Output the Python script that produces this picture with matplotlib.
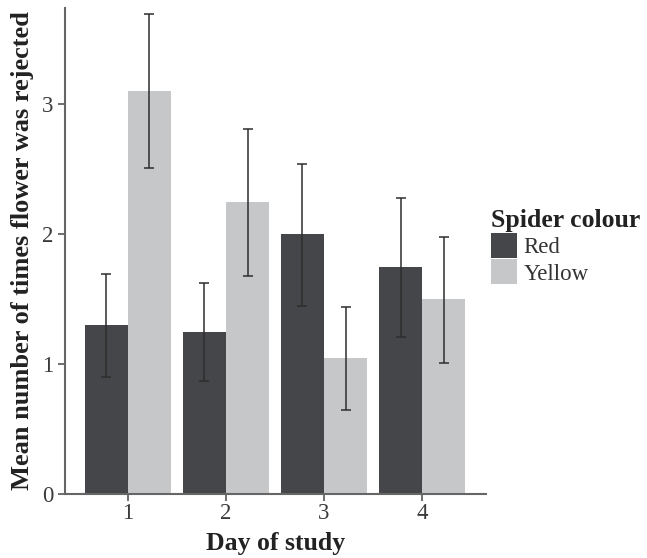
import numpy as np
import matplotlib
matplotlib.use("Agg")
import matplotlib.pyplot as plt

# data
days = [1, 2, 3, 4]
series = ["Red", "Yellow"]
red_mean = [1.30, 1.25, 2.00, 1.75]
red_lo = [0.90, 0.87, 1.45, 1.21]
red_hi = [1.69, 1.62, 2.54, 2.28]
yellow_mean = [3.10, 2.25, 1.05, 1.50]
yellow_lo = [2.51, 1.68, 0.65, 1.01]
yellow_hi = [3.69, 2.81, 1.44, 1.98]

colours = {"Red": "#454649", "Yellow": "#c6c7c9"}

plt.rcParams["font.family"] = ["Liberation Serif", "DejaVu Serif"]

fig = plt.figure(figsize=(6.47, 5.58), dpi=100)
ax = fig.add_axes([0.1005, 0.1147, 0.6505, 0.871])

x = np.array(days, dtype=float)
w = 0.44
for i, (name, mean, lo, hi) in enumerate([
        ("Red", red_mean, red_lo, red_hi),
        ("Yellow", yellow_mean, yellow_lo, yellow_hi)]):
    pos = x + (i - 0.5) * w
    mean = np.array(mean)
    err = np.vstack([mean - np.array(lo), np.array(hi) - mean])
    ax.bar(pos, mean, width=w, color=colours[name], label=name, zorder=2)
    ax.errorbar(pos, mean, yerr=err, fmt="none", ecolor="#2e2e2e",
                elinewidth=1.1, capsize=3.8, capthick=1.1, zorder=3)

ax.set_xlim(0.36, 4.65)
ax.set_ylim(0, 3.74)
ax.set_xticks(days)
ax.set_yticks([0, 1, 2, 3])
ax.tick_params(axis="both", labelsize=16.5, colors="#555555", labelcolor="#3a3a3a",
               length=5, width=1.2)
ax.tick_params(axis="x", pad=1.5)

for s in ["top", "right"]:
    ax.spines[s].set_visible(False)
for s in ["left", "bottom"]:
    ax.spines[s].set_color("#666666")
    ax.spines[s].set_linewidth(1.5)

ax.set_xlabel("Day of study", fontsize=18.5, fontweight="bold", color="#222222", labelpad=6)
ax.set_ylabel("Mean number of times flower was rejected", fontsize=19,
              fontweight="bold", color="#222222", labelpad=6)

leg = fig.legend(loc="upper left", bbox_to_anchor=(0.744, 0.642), frameon=False,
                 title="Spider colour", fontsize=16.5, handlelength=1.15,
                 handleheight=1.3, labelspacing=0.05, handletextpad=0.3,
                 alignment="left", borderaxespad=0)
leg.get_title().set_fontweight("bold")
leg.get_title().set_fontsize(18.5)
leg.get_title().set_color("#222222")
for t in leg.get_texts():
    t.set_color("#333333")

fig.savefig("out.png", dpi=100)
